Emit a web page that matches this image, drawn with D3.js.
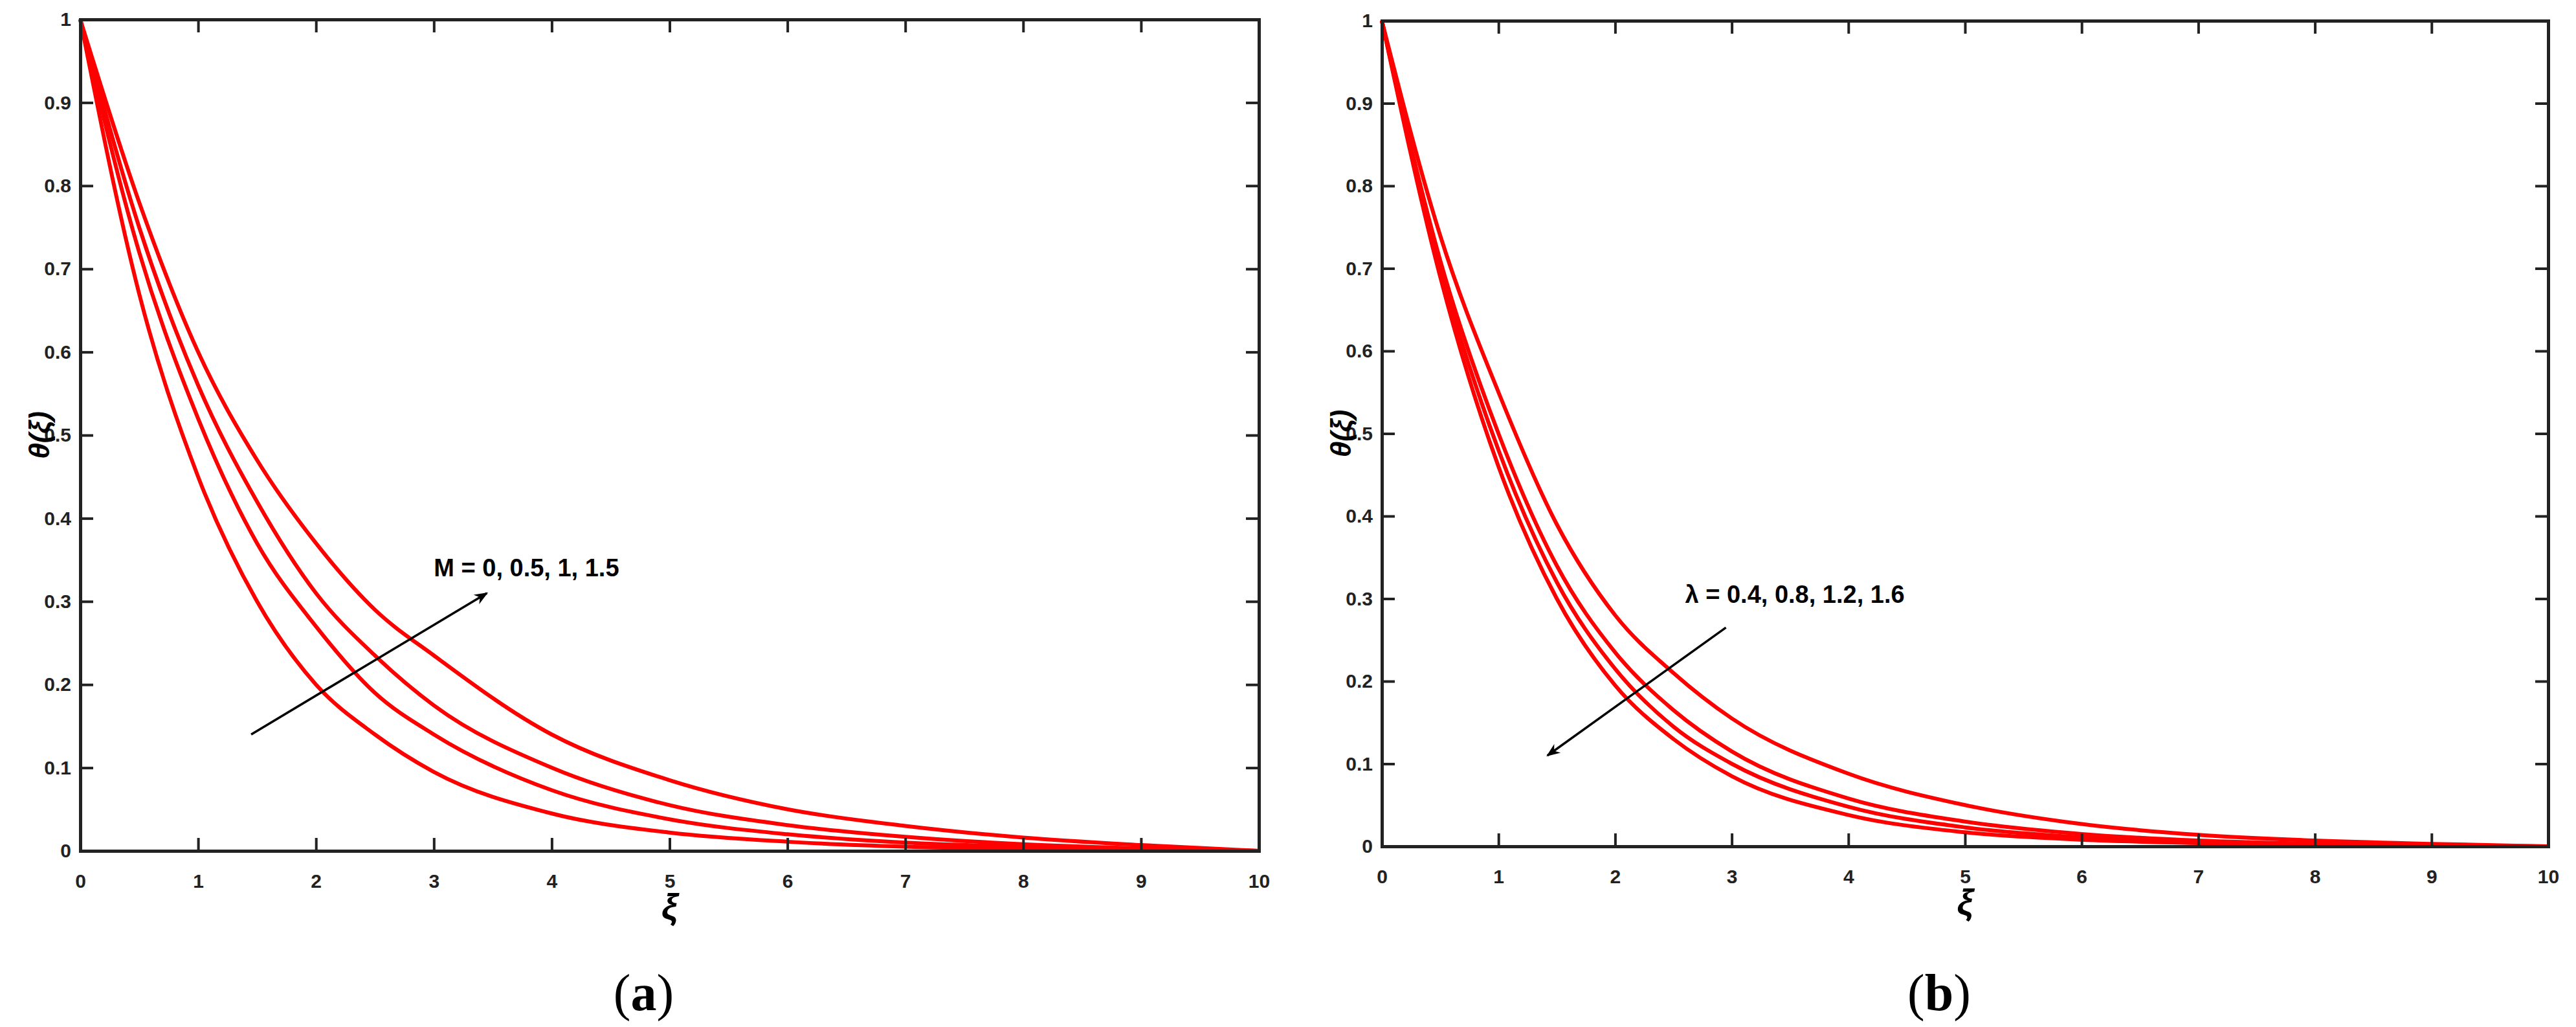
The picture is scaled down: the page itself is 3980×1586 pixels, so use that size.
<!DOCTYPE html>
<html>
<head>
<meta charset="utf-8">
<script src="https://cdn.jsdelivr.net/npm/d3@7"></script>
<style>
  body { margin: 0; background: #fff; }
  svg text { font-family: "Liberation Sans", Arial, sans-serif; }
</style>
</head>
<body>
<svg id="chart" width="3980" height="1586"></svg>
<script>
// sample positions for xi
const xiA = [0, 0.5, 1, 1.5, 2, 2.5, 3, 4, 5, 6, 7, 8, 9, 10];
// panel (a): M = 0, 0.5, 1, 1.5
const seriesA = [
    [1, 0.67, 0.45, 0.30, 0.20, 0.14, 0.095, 0.045, 0.022, 0.011, 0.005, 0.002, 0.001, 0],
    [1, 0.72, 0.52, 0.37, 0.27, 0.19, 0.14, 0.073, 0.038, 0.020, 0.010, 0.005, 0.002, 0],
    [1, 0.75, 0.56, 0.42, 0.31, 0.235, 0.175, 0.10, 0.055, 0.031, 0.017, 0.008, 0.003, 0],
    [1, 0.78, 0.60, 0.47, 0.37, 0.29, 0.235, 0.14, 0.085, 0.050, 0.030, 0.016, 0.007, 0]
];
// panel (b): lambda = 0.4, 0.8, 1.2, 1.6
const seriesB = [
    [1, 0.74, 0.55, 0.39, 0.28, 0.21, 0.155, 0.088, 0.050, 0.027, 0.014, 0.007, 0.003, 0],
    [1, 0.71, 0.50, 0.34, 0.235, 0.165, 0.115, 0.058, 0.030, 0.015, 0.007, 0.003, 0.001, 0],
    [1, 0.70, 0.48, 0.32, 0.215, 0.145, 0.10, 0.048, 0.023, 0.011, 0.005, 0.002, 0.001, 0],
    [1, 0.69, 0.46, 0.30, 0.195, 0.13, 0.085, 0.038, 0.017, 0.008, 0.004, 0.002, 0.0005, 0]
];
const xTicks = [0, 1, 2, 3, 4, 5, 6, 7, 8, 9, 10];
const yTicks = [0, 0.1, 0.2, 0.3, 0.4, 0.5, 0.6, 0.7, 0.8, 0.9, 1];

const panels = [
    { left: 124, right: 1945, top: 30, bottom: 1314, data: seriesA, cap: "a",
      label: "M = 0, 0.5, 1, 1.5", labelAt: [3.0, 0.33],
      arrow: [[1.45, 0.14], [3.45, 0.31]] },
    { left: 2135, right: 3937, top: 32, bottom: 1307, data: seriesB, cap: "b",
      label: "\u03bb = 0.4, 0.8, 1.2, 1.6", labelAt: [2.6, 0.295],
      arrow: [[2.95, 0.265], [1.42, 0.11]] }
];

const svg = d3.select("#chart");
svg.append("defs").append("marker")
    .attr("id", "arr").attr("viewBox", "0 0 10 10")
    .attr("refX", 9).attr("refY", 5)
    .attr("markerWidth", 6).attr("markerHeight", 6)
    .attr("orient", "auto")
    .append("path").attr("d", "M0,1 L10,5 L0,9 L3,5 Z").attr("fill", "#000");

panels.forEach(function (p) {
    let x = d3.scaleLinear().domain([0, 10]).range([p.left, p.right]);
    let y = d3.scaleLinear().domain([0, 1]).range([p.bottom, p.top]);
    let g = svg.append("g");

    let line = d3.line()
        .x(function (d, i) { return x(xiA[i]); })
        .y(function (d) { return y(d); })
        .curve(d3.curveMonotoneX);

    p.data.forEach(function (s) {
        g.append("path").attr("d", line(s))
            .attr("fill", "none").attr("stroke", "#ff0000").attr("stroke-width", 6);
    });

    // inward ticks on all sides
    g.append("g").attr("transform", "translate(0," + p.bottom + ")")
        .call(d3.axisBottom(x).tickValues(xTicks).tickSize(-20).tickPadding(36).tickFormat(d3.format("d")));
    g.append("g").attr("transform", "translate(0," + p.top + ")")
        .call(d3.axisTop(x).tickValues(xTicks).tickSize(-20).tickFormat(""));
    g.append("g").attr("transform", "translate(" + p.left + ",0)")
        .call(d3.axisLeft(y).tickValues(yTicks).tickSize(-20).tickPadding(14).tickFormat(d3.format("")));
    g.append("g").attr("transform", "translate(" + p.right + ",0)")
        .call(d3.axisRight(y).tickValues(yTicks).tickSize(-20).tickFormat(""));

    g.selectAll(".domain").attr("stroke", "#222").attr("stroke-width", 5);
    g.selectAll(".tick line").attr("stroke", "#222").attr("stroke-width", 4);
    g.selectAll(".tick text").attr("font-size", 30).attr("font-weight", "bold").attr("fill", "#222")
        .style("font-family", "Liberation Sans, Arial, sans-serif");

    g.append("text").attr("x", (p.left + p.right) / 2).attr("y", p.bottom + 105)
        .attr("text-anchor", "middle").attr("font-size", 56).attr("font-weight", "bold")
        .attr("font-style", "italic").text("\u03be");
    g.append("text").attr("transform", "translate(" + (p.left - 48) + "," + ((p.top + p.bottom) / 2) + ") rotate(-90)")
        .attr("text-anchor", "middle").attr("font-size", 44).attr("font-weight", "bold")
        .attr("font-style", "italic").text("\u03b8(\u03be)");

    g.append("line")
        .attr("x1", x(p.arrow[0][0])).attr("y1", y(p.arrow[0][1]))
        .attr("x2", x(p.arrow[1][0])).attr("y2", y(p.arrow[1][1]))
        .attr("stroke", "#000").attr("stroke-width", 3.5).attr("marker-end", "url(#arr)");
    g.append("text").attr("x", x(p.labelAt[0])).attr("y", y(p.labelAt[1]))
        .attr("font-size", 38).attr("font-weight", "bold").text(p.label);

    let cap = g.append("text").attr("x", (p.left + p.right) / 2 - 40).attr("y", 1560)
        .attr("text-anchor", "middle").attr("font-size", 80)
        .style("font-family", "Liberation Serif, serif");
    cap.append("tspan").text("(");
    cap.append("tspan").attr("font-weight", "bold").text(p.cap);
    cap.append("tspan").text(")");
});
</script>
</body>
</html>
